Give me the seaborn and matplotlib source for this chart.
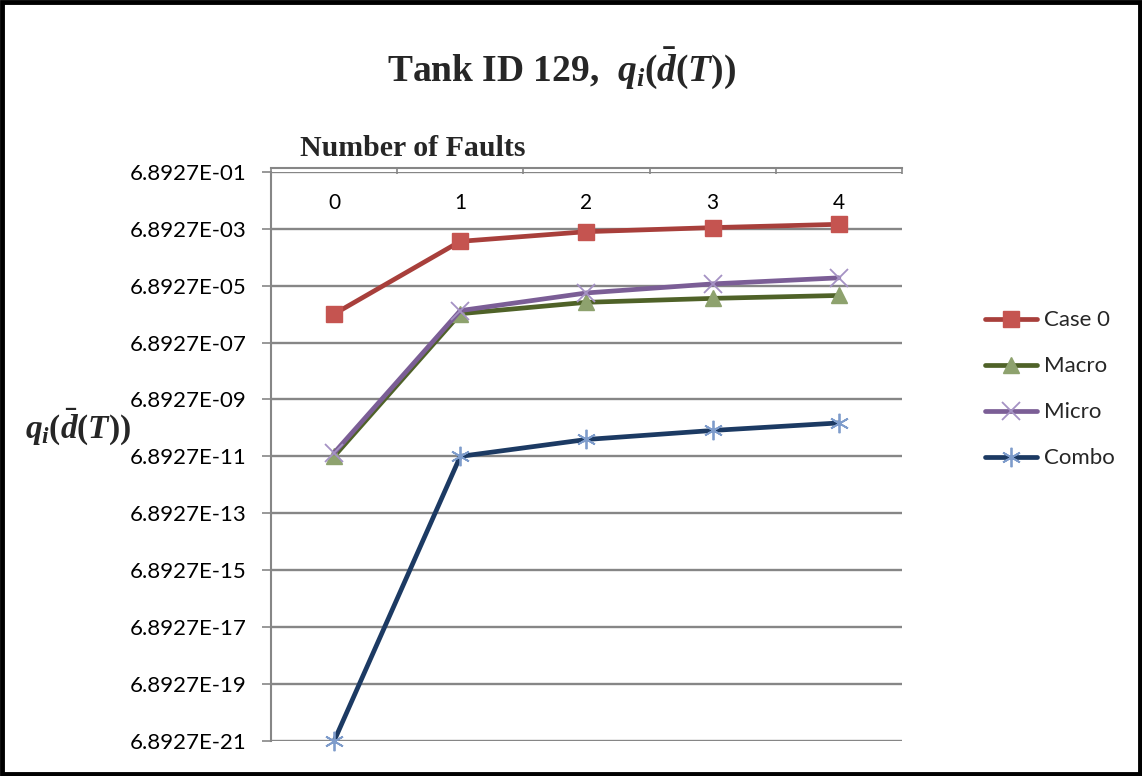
import matplotlib
matplotlib.use('Agg')
import matplotlib.pyplot as plt
import seaborn as sns
import pandas as pd
from matplotlib.patches import Rectangle
from matplotlib.ticker import NullLocator

# ---------------- data ----------------
faults = [0, 1, 2, 3, 4]
fault_labels = ["0", "1", "2", "3", "4"]
series_names = ["Case 0", "Macro", "Micro", "Combo"]
case0 = [6.9e-06, 2.47e-03, 5.4e-03, 7.5e-03, 9.8e-03]
macro = [6.89e-11, 7.1e-06, 1.78e-05, 2.45e-05, 3.1e-05]
micro = [9.1e-11, 9.1e-06, 3.8e-05, 7.9e-05, 1.29e-04]
combo = [6.8927e-21, 6.89e-11, 2.7e-10, 5.6e-10, 1.03e-09]
ytick_values = [6.8927e-01, 6.8927e-03, 6.8927e-05, 6.8927e-07, 6.8927e-09, 6.8927e-11,
                6.8927e-13, 6.8927e-15, 6.8927e-17, 6.8927e-19, 6.8927e-21]
ytick_labels = ["6.8927E-01", "6.8927E-03", "6.8927E-05", "6.8927E-07", "6.8927E-09",
                "6.8927E-11", "6.8927E-13", "6.8927E-15", "6.8927E-17", "6.8927E-19",
                "6.8927E-21"]

# ---------------- style ----------------
sns.set_theme(style='white')
plt.rcParams['font.family'] = ['Lato', 'DejaVu Sans']
plt.rcParams['mathtext.fontset'] = 'custom'
plt.rcParams['mathtext.rm'] = 'Liberation Serif:bold'
plt.rcParams['mathtext.it'] = 'Liberation Serif:italic:bold'
plt.rcParams['mathtext.bf'] = 'Liberation Serif:bold'

GRID = '#868686'
fig = plt.figure(figsize=(11.42, 7.76), dpi=100)
ax = fig.add_axes([0.2373, 0.0451, 0.5525, 0.7336])
ax.set_yscale('log')

specs = [
    (case0, '#A83F3B', 's', '#C55450', '#C55450', 11.5, 1.0),
    (macro, '#4F6228', '^', '#8EA26E', '#8EA26E', 11, 1.0),
    (micro, '#7B5E96', 'x', '#A592C4', '#A592C4', 12.5, 1.3),
    (combo, '#1C3A63', (6, 2, 0), '#7E9CCB', '#7E9CCB', 14, 1.3),
]
for (vals, lc, mk, mfc, mec, ms, mew), name in zip(specs, series_names):
    df = pd.DataFrame({'faults': faults, 'q': vals})
    sns.lineplot(data=df, x='faults', y='q', ax=ax, color=lc, marker=mk,
                 markersize=ms, markerfacecolor=mfc, markeredgecolor=mec,
                 markeredgewidth=mew, linewidth=3.4, clip_on=False,
                 legend=False, zorder=5)

handles = ax.lines[:4]

ax.set_xlim(-0.5, 4.5)
ax.set_ylim(ytick_values[-1], ytick_values[0])
ax.set_yticks(ytick_values)
ax.set_yticklabels(ytick_labels)
ax.yaxis.set_minor_locator(NullLocator())
ax.set_xlabel('')
ax.set_ylabel('')

ax.xaxis.tick_top()
ax.set_xticks(faults)
ax.set_xticklabels(fault_labels)
ax.set_xticks([f - 0.5 for f in faults] + [faults[-1] + 0.5], minor=True)
ax.tick_params(axis='x', which='major', length=0, pad=-33, labelsize=15,
               labelcolor='black', top=True, bottom=False, labeltop=True,
               labelbottom=False)
ax.tick_params(axis='x', which='minor', direction='in', length=4.5, width=1.2,
               color=GRID, top=True, bottom=False)
ax.tick_params(axis='y', which='major', direction='out', length=6.5, width=1.2,
               color=GRID, pad=11, labelsize=16, labelcolor='black', left=True)

ax.grid(axis='y', color=GRID, linewidth=1.7)
ax.grid(axis='x', visible=False)
for s in ['right', 'bottom']:
    ax.spines[s].set_visible(False)
ax.spines['top'].set_color(GRID)
ax.spines['top'].set_linewidth(1.5)
ax.spines['top'].set_position(('outward', 3))
ax.spines['left'].set_color(GRID)
ax.spines['left'].set_linewidth(1.5)

# ---------------- texts ----------------
fig.text(0.492, 0.912, r'Tank ID 129,  $q_i(\bar{d}(T))$', ha='center', va='center',
         fontsize=27, family='Liberation Serif', weight='bold')
fig.text(0.2627, 0.809, 'Number of Faults', ha='left', va='center', fontsize=21.5,
         family='Liberation Serif', weight='bold')
fig.text(0.022, 0.45, r'$q_i(\bar{d}(T))$', ha='left', va='center', fontsize=24,
         family='Liberation Serif', weight='bold')

fig.legend(handles, series_names, loc='upper left', bbox_to_anchor=(0.8625, 0.6),
           frameon=False, fontsize=16, handlelength=2.35, handletextpad=0.3,
           labelspacing=1.17, borderaxespad=0, borderpad=0)

fig.add_artist(Rectangle((0.002, 0.003), 0.996, 0.994, transform=fig.transFigure,
                         fill=False, linewidth=3.5, edgecolor='black'))

fig.savefig('out.png', dpi=100, facecolor='white')
